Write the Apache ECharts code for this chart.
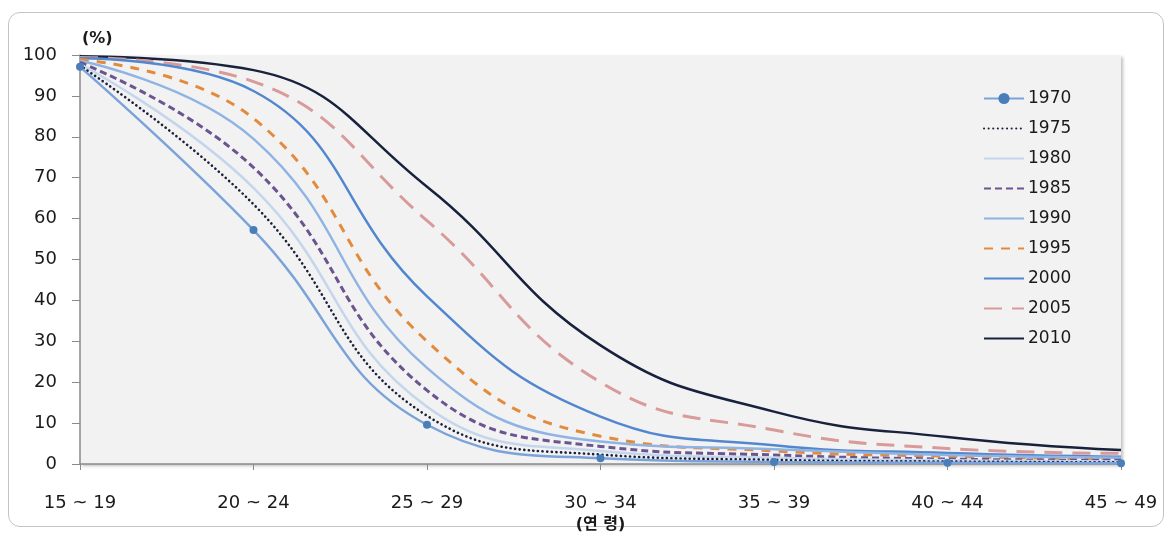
<!DOCTYPE html>
<html><head><meta charset="utf-8">
<script src="https://cdn.jsdelivr.net/npm/echarts@6/dist/echarts.min.js"></script>
<style>
html,body{margin:0;padding:0;background:#fff;}
#frame{position:absolute;left:8px;top:12px;width:1156px;height:515px;border:1px solid #c4c4c4;border-radius:12px;box-sizing:border-box;}
#chart{position:absolute;left:0;top:0;width:1172px;height:534px;}
</style></head>
<body>
<div id="frame"></div>
<div id="chart"></div>
<script>
const categories = ['15 ~ 19','20 ~ 24','25 ~ 29','30 ~ 34','35 ~ 39','40 ~ 44','45 ~ 49'];
const years = ['1970','1975','1980','1985','1990','1995','2000','2005','2010'];
const s1970 = [97.1, 57.2, 9.6, 1.4, 0.5, 0.3, 0.2];
const s1975 = [97.4, 63.5, 11.8, 2.3, 1.0, 0.6, 0.4];
const s1980 = [97.8, 67.5, 14.0, 3.2, 1.5, 0.9, 0.6];
const s1985 = [98.2, 72.5, 18.0, 4.3, 2.2, 1.2, 0.9];
const s1990 = [98.6, 79.5, 23.5, 5.5, 3.6, 2.2, 1.5];
const s1995 = [98.9, 84.5, 30.0, 6.8, 3.2, 1.9, 1.2];
const s2000 = [99.2, 91.2, 41.0, 11.6, 4.6, 2.7, 1.8];
const s2005 = [99.4, 93.5, 59.5, 20.0, 8.3, 3.8, 2.6];
const s2010 = [99.7, 96.3, 67.8, 29.0, 12.8, 6.6, 3.4];
const yTicks = [0,10,20,30,40,50,60,70,80,90,100];

const seriesData = [s1970,s1975,s1980,s1985,s1990,s1995,s2000,s2005,s2010];
const styles = [
  {color:'#7ba3d9', type:'solid', width:2.5},
  {color:'#1a1f3a', type:[0.1,4.5], width:2.6, cap:'round'},
  {color:'#c5d5ec', type:'solid', width:2.5},
  {color:'#6a5590', type:[7,4], width:3},
  {color:'#8fb4e3', type:'solid', width:2.5},
  {color:'#e38b3d', type:[9,8], width:3},
  {color:'#5287cf', type:'solid', width:2.5},
  {color:'#d99a9a', type:[18,10], width:3},
  {color:'#18223d', type:'solid', width:2.5}
];
const FONT = 'DejaVu Sans, Noto Sans CJK KR, sans-serif';

const series = years.map((y,i)=>{
  const st = styles[i];
  const s = {
    name: y, type:'line', data: seriesData[i], smooth:0.45,
    lineStyle:{color:st.color, width:st.width, type:st.type, cap: st.cap||'butt'},
    itemStyle:{color: i===0 ? '#4a7ebb' : st.color},
    z: 10 - i,
    animation:false
  };
  if(i===0){ s.symbol='circle'; s.symbolSize=8; s.showSymbol=true; }
  else { s.symbol='none'; }
  return s;
});

const legendData = years.map((y,i)=> i===0 ? {name:y} : {name:y, itemStyle:{opacity:0}});

const chart = echarts.init(document.getElementById('chart'), null, {renderer:'canvas'});
chart.setOption({
  backgroundColor:'transparent',
  animation:false,
  grid:{left:80, right:51, top:55, bottom:70, show:true, backgroundColor:'#f2f2f2', borderWidth:0,
        outerBoundsMode:'none', containLabel:false,
        shadowColor:'rgba(0,0,0,0.25)', shadowBlur:3, shadowOffsetX:2, shadowOffsetY:2},
  legend:{
    orient:'vertical', left:978, top:85, itemWidth:40, itemHeight:14, itemGap:13,
    textStyle:{fontFamily:FONT, fontSize:17, color:'#1a1a1a', padding:[0,0,0,-1]},
    data: legendData
  },
  xAxis:{
    type:'category', data:categories, boundaryGap:false,
    axisLine:{lineStyle:{color:'#8a8a8a', width:1.5}},
    axisTick:{show:true, length:6, lineStyle:{color:'#8a8a8a'}},
    axisLabel:{fontFamily:FONT, fontSize:18, color:'#1a1a1a', margin:30},
    name:'(연 령)', nameLocation:'middle', nameGap:48,
    nameTextStyle:{fontFamily:FONT, fontSize:16, fontWeight:'bold', color:'#1a1a1a'}
  },
  yAxis:{
    type:'value', min:0, max:100, interval:10,
    axisLine:{show:true, lineStyle:{color:'#8a8a8a', width:1.5}},
    axisTick:{show:true, length:8, lineStyle:{color:'#8a8a8a'}},
    splitLine:{show:false},
    axisLabel:{fontFamily:FONT, fontSize:18, color:'#1a1a1a', margin:23,
      formatter:(v)=> yTicks.includes(v) ? String(v) : ''},
    name:'(%)', nameLocation:'end', nameGap:8,
    nameTextStyle:{fontFamily:FONT, fontSize:16, fontWeight:'bold', color:'#1a1a1a', align:'left', padding:[0,0,0,2]}
  },
  series: series
});
</script>
</body></html>
